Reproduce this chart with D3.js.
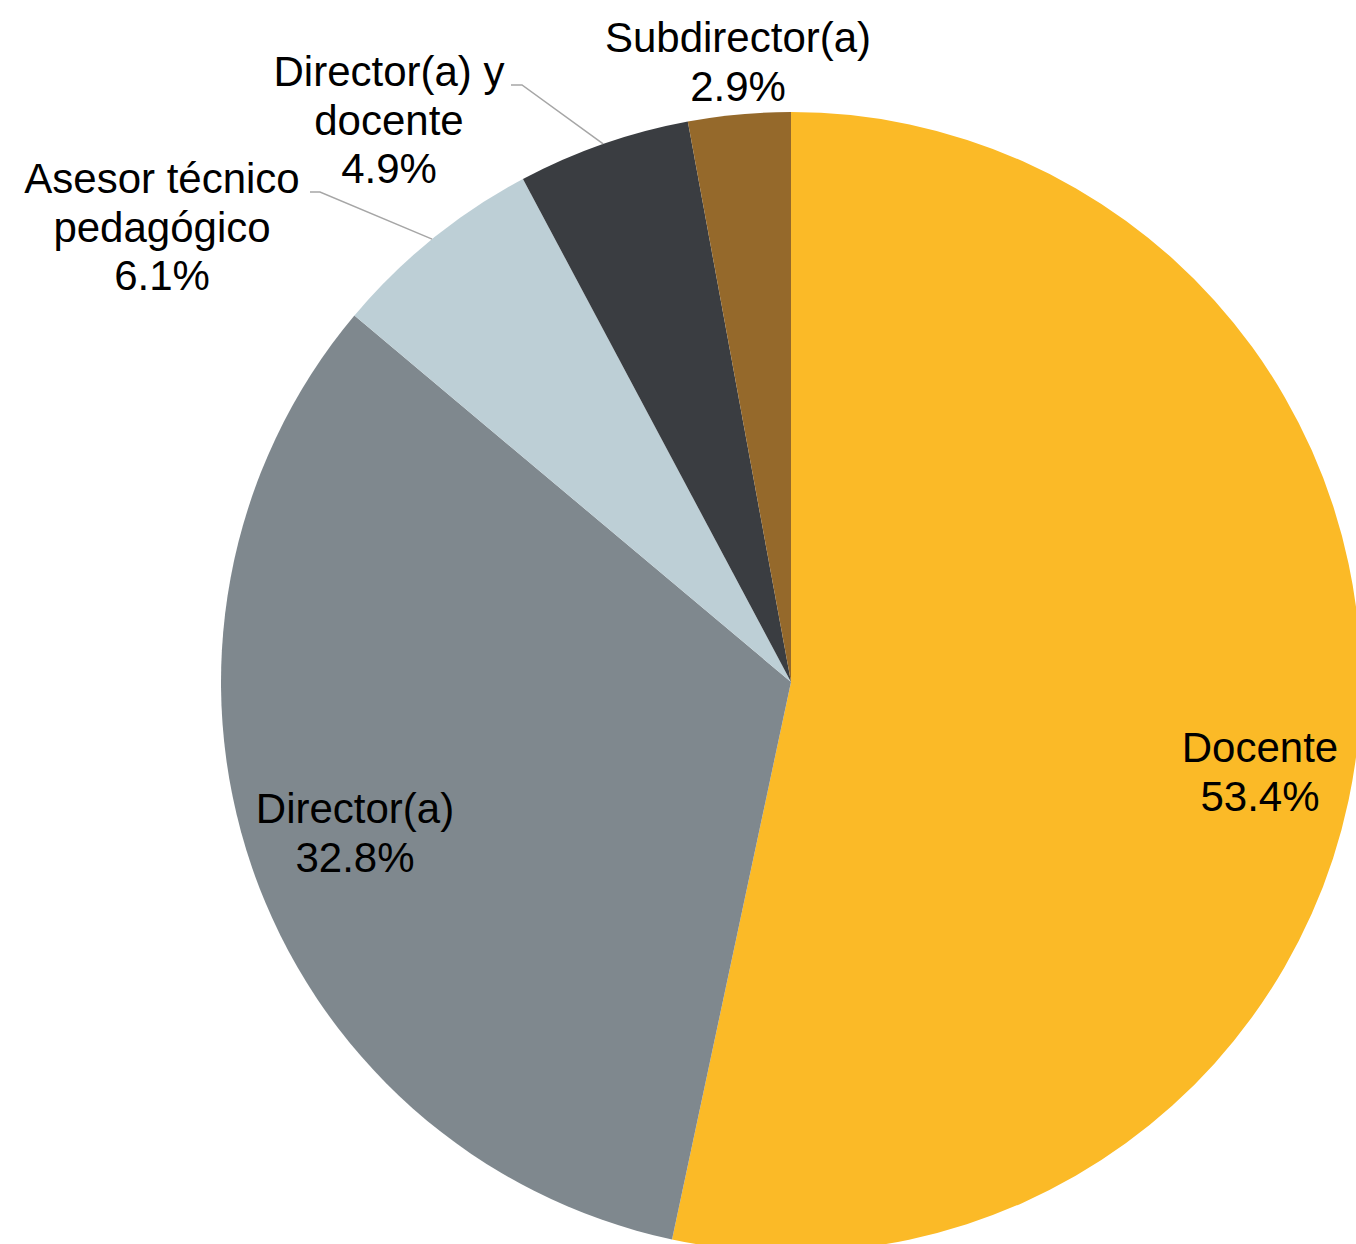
<!DOCTYPE html>
<html>
<head>
<meta charset="utf-8">
<script src="https://cdn.jsdelivr.net/npm/d3@7"></script>
<style>
html,body{margin:0;padding:0;background:#fff;}
svg{display:block;}
text{font-family:"Liberation Sans",Arial,sans-serif;font-size:42px;fill:#000;}
</style>
</head>
<body>
<script>
const categories = ["Docente","Director(a)","Asesor técnico pedagógico","Director(a) y docente","Subdirector(a)"];
const values = [53.4, 32.8, 6.1, 4.9, 2.9];
const labelLines = [["Docente","53.4%"],["Director(a)","32.8%"],["Asesor técnico","pedagógico","6.1%"],["Director(a) y","docente","4.9%"],["Subdirector(a)","2.9%"]];
const colors = ["#FBBA27","#7F888E","#BDCFD6","#3A3D41","#95692B"];

const W=1356,H=1244, cx=791, cy=682, R=570;
const svg=d3.select("body").append("svg").attr("width",W).attr("height",H);
const g=svg.append("g").attr("transform",`translate(${cx},${cy})`);
const data=categories.map((c,i)=>({c,v:values[i],i}));
const pie=d3.pie().value(d=>d.v).sort(null);
const arc=d3.arc().innerRadius(0).outerRadius(R);
const arcs=pie(data);
g.selectAll("path").data(arcs).join("path").attr("d",arc).attr("fill",d=>colors[d.data.i]);

// label anchor positions (relative to center) and leader lines
const labelPos = [
  {x:1260-cx, y:762-cy},
  {x:355-cx, y:823-cy},
  {x:162-cx, y:193-cy, leader:[[310,192],[320,192]]},
  {x:389-cx, y:86-cy, leader:[[511,85],[522,85]]},
  {x:738-cx, y:52-cy}
];
const lh=48.5;
arcs.forEach((a,k)=>{
  const p=labelPos[a.data.i];
  const t=g.append("text").attr("text-anchor","middle");
  labelLines[a.data.i].forEach((ln,j)=>{
    t.append("tspan").attr("x",p.x).attr("y",p.y+j*lh).text(ln);
  });
  if(p.leader){
    const mid=(a.startAngle+a.endAngle)/2;
    const ex=Math.sin(mid)*R, ey=-Math.cos(mid)*R;
    const pts=p.leader.map(q=>[q[0]-cx,q[1]-cy]).concat([[ex,ey]]);
    g.append("path").attr("d",d3.line()(pts)).attr("fill","none").attr("stroke","#A6A6A6").attr("stroke-width",1.5);
  }
});
</script>
</body>
</html>
